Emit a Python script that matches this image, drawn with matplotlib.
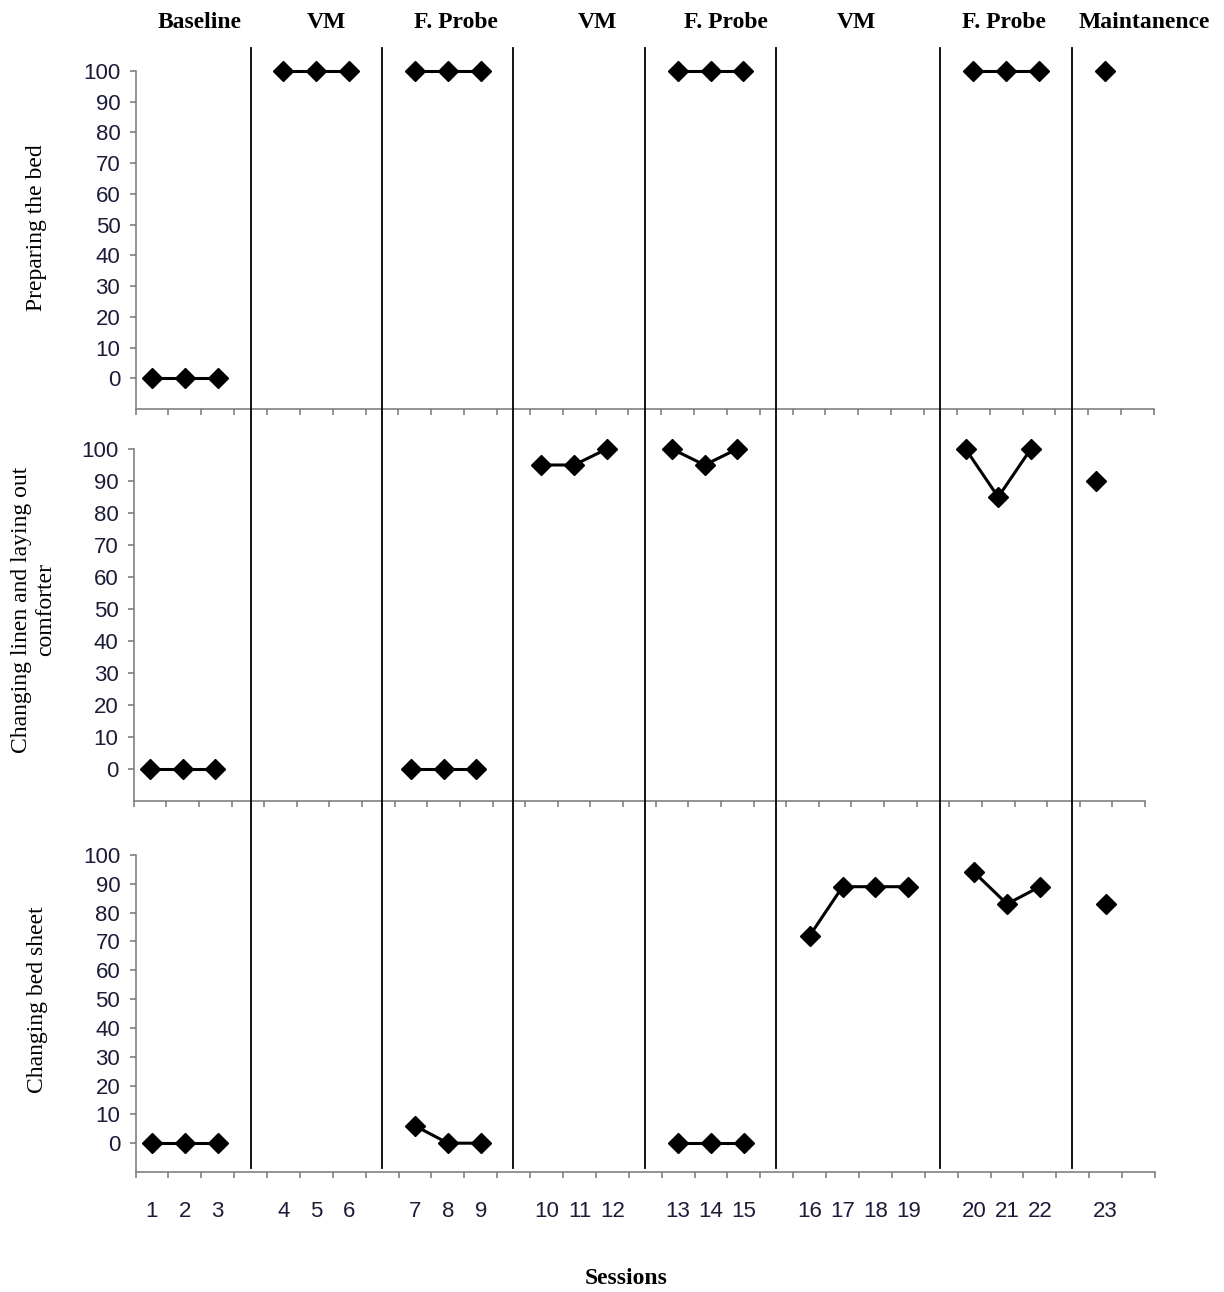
import numpy as np
import matplotlib.pyplot as plt
from matplotlib.lines import Line2D

# phases of the design and the sessions in each
phases = ['Baseline', 'VM', 'F. Probe', 'VM', 'F. Probe', 'VM', 'F. Probe', 'Maintanence']
phase_sessions = [[1, 2, 3], [4, 5, 6], [7, 8, 9], [10, 11, 12], [13, 14, 15],
                  [16, 17, 18, 19], [20, 21, 22], [23]]

# percent correct per session (None = not measured)
prep_bed = [0, 0, 0, 100, 100, 100, 100, 100, 100, None, None, None,
            100, 100, 100, None, None, None, None, 100, 100, 100, 100]
linen = [0, 0, 0, None, None, None, 0, 0, 0, 95, 95, 100,
         100, 95, 100, None, None, None, None, 100, 85, 100, 90]
sheet = [0, 0, 0, None, None, None, 6, 0, 0, None, None, None,
         0, 0, 0, 72, 89, 89, 89, 94, 83, 89, 83]

ylabels = ['Preparing the bed', 'Changing linen and laying out\ncomforter', 'Changing bed sheet']
yticks = list(range(0, 101, 10))

W, H = 1224, 1292
fig = plt.figure(figsize=(W / 100, H / 100), dpi=100)

def px(x0, y0, x1, y1):
    # pixel box -> figure fraction rect
    return [x0 / W, 1 - y1 / H, (x1 - x0) / W, (y1 - y0) / H]

boxes = [px(135.6, 71, 1154, 409), px(133.7, 449, 1145, 801), px(135.5, 855, 1155, 1172)]
series = [prep_bed, linen, sheet]
ylab_pos = [(37, 228), (34, 610), (38, 1000)]

# x position of each session: one blank slot between phases
xpos = {}
for i, ss in enumerate(phase_sessions):
    for s in ss:
        xpos[s] = s - 1 + i
nslots = 31
gray = '#808080'
tick_font = dict(family='Liberation Sans', size=16, color='#1c1c3a')

axes = []
for k, (box, vals) in enumerate(zip(boxes, series)):
    ax = fig.add_axes(box)
    axes.append(ax)
    for ss in phase_sessions:
        xs = [xpos[s] for s in ss if vals[s - 1] is not None]
        ys = [vals[s - 1] for s in ss if vals[s - 1] is not None]
        if xs:
            ax.plot(xs, ys, color='black', lw=2.2, marker='D', ms=10,
                    clip_on=False, zorder=5)
    ax.set_xlim(-0.5, nslots - 0.5)
    ax.set_ylim(-10, 100)
    for s in ['top', 'right']:
        ax.spines[s].set_visible(False)
    for s in ['left', 'bottom']:
        ax.spines[s].set_color(gray)
        ax.spines[s].set_linewidth(1.2)
    ax.set_yticks(yticks)
    ax.set_yticklabels([str(v) for v in yticks], fontdict=tick_font)
    ax.tick_params(axis='y', direction='out', length=4, color=gray, width=1.2, pad=7)
    ax.set_xticks(np.arange(-0.5, nslots, 1.0))
    ax.set_xticklabels([])
    ax.tick_params(axis='x', which='major', direction='out', length=4, color=gray, width=1.2)
    if k == 2:
        ax.set_xticks([xpos[s] for s in range(1, 24)], minor=True)
        ax.set_xticklabels([str(s) for s in range(1, 24)], minor=True, fontdict=tick_font)
        ax.tick_params(axis='x', which='minor', length=0, pad=21)
    fig.text(ylab_pos[k][0] / W, 1 - ylab_pos[k][1] / H, ylabels[k], rotation=90,
             ha='center', va='center', multialignment='center',
             family='Liberation Serif', fontsize=17)

# phase change lines through all panels
top = axes[0]
for i in range(len(phase_sessions) - 1):
    xb = xpos[phase_sessions[i][-1]] + 1
    xf = top.transData.transform((xb, 0))[0] / W
    fig.add_artist(Line2D([xf, xf], [1 - 48 / H, 1 - 1168 / H], color='black', lw=1.3,
                          transform=fig.transFigure))

# phase titles
title_x = [200, 326, 456, 597, 726, 856, 1004, 1144]
for name, tx in zip(phases, title_x):
    fig.text(tx / W, 1 - 22 / H, name, ha='center', va='center',
             family='Liberation Serif', fontsize=17, fontweight='bold')

fig.text(626 / W, 1 - 1279 / H, 'Sessions', ha='center', va='center',
         family='Liberation Serif', fontsize=17, fontweight='bold')

fig.savefig('out.png', dpi=100)
